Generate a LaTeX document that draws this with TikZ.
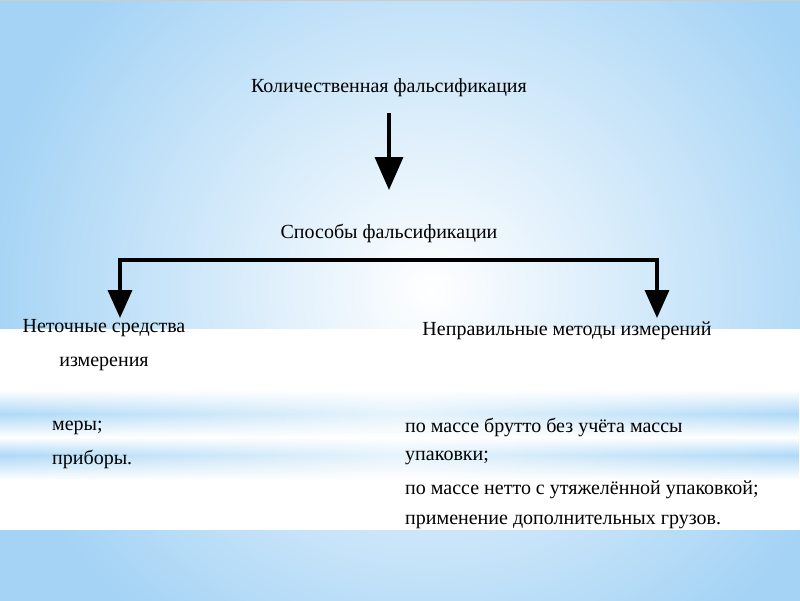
\documentclass[tikz,border=0pt]{standalone}
\usepackage{fontspec}
\setmainfont{Liberation Serif}
\usetikzlibrary{fadings,arrows.meta}
\definecolor{bgblue}{HTML}{A4D3F5}
\definecolor{stripeblue}{HTML}{AFDAF7}
\tikzfading[name=midfade, left color=transparent!0, right color=transparent!0, middle color=transparent!70]
\pgfdeclareverticalshading{stripes}{100bp}{color(0bp)=(white); color(25bp)=(white); color(38.9bp)=(stripeblue); color(48.9bp)=(white); color(61.7bp)=(stripeblue); color(75bp)=(white); color(100bp)=(white)}
\tikzset{
  lbl/.style={inner sep=0pt, font=\fontsize{20}{24}\selectfont, text=black},
  item/.style={inner sep=0pt, anchor=west, font=\fontsize{20}{24}\selectfont, text=black},
  conn/.style={line width=3.5pt, -{Triangle[length=33pt,width=28pt]}},
  conn2/.style={line width=3.5pt, -{Triangle[length=28pt,width=24pt]}}
}
\begin{document}
\begin{tikzpicture}[x=1pt,y=-1pt]
\useasboundingbox (0,0) rectangle (800,600);
% background
\begin{scope}
\clip (0,0) rectangle (800,600);
\shade[inner color=white, outer color=bgblue] (-20,-140) rectangle (880,720);
\end{scope}
\fill[white] (0,329) rectangle (800,530);
\shade[shading=stripes, path fading=midfade] (0,390) rectangle (800,480);
\draw[gray!40, line width=1pt] (0,0.5) -- (800,0.5);
% nodes
\node[lbl] (top) at (389,88) {Количественная фальсификация};
\node[lbl] (mid) at (389,233) {Способы фальсификации};
\node[lbl, align=center] (left) at (104,345) {Неточные средства\\[10pt]измерения};
\node[lbl] (right) at (567,331) {Неправильные методы измерений};
\coordinate (ta) at (389,113);
\coordinate (tb) at (389,190);
\coordinate (hl) at (120,260);
\coordinate (hr) at (657,260);
\coordinate (la) at (120,318);
\coordinate (ra) at (657,318);
\draw[conn] (ta) -- (tb);
\draw[line width=3.5pt, line cap=rect] (hl) -- (hr);
\draw[conn2] (hl) -- (la);
\draw[conn2] (hr) -- (ra);
% lists
\node[item] (m1) at (52,428) {меры;};
\node[item] (m2) at (52,459) {приборы.};
\node[item] (r1) at (405,427) {по массе брутто без учёта массы};
\node[item] (r2) at (405,458) {упаковки;};
\node[item] (r3) at (405,490) {по массе нетто с утяжелённой упаковкой;};
\node[item] (r4) at (405,522) {применение дополнительных грузов.};
\end{tikzpicture}
\end{document}
